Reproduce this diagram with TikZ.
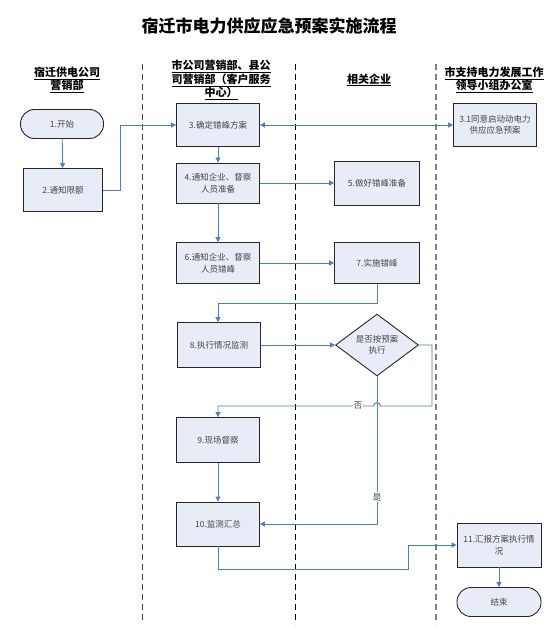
\documentclass[tikz,border=0pt]{standalone}
\usepackage{fontspec}
\setmainfont{Noto Sans CJK SC}
\usetikzlibrary{shapes.geometric,arrows.meta}
\definecolor{boxfill}{RGB}{231,236,246}
\definecolor{flow}{RGB}{74,126,190}
\definecolor{boxtext}{RGB}{70,70,70}
\tikzset{
  box/.style={draw=black!85, line width=0.9pt, fill=boxfill, minimum width=83pt, minimum height=43pt,
    align=center, inner sep=1pt, text=boxtext, font=\fontsize{8.5}{11.5}\selectfont},
  term/.style={box, rounded corners=14pt, minimum height=29pt},
  dec/.style={draw=black!85, line width=0.9pt, fill=boxfill, diamond, minimum width=83pt, minimum height=45pt,
    inner sep=0pt, align=center, text=boxtext, font=\fontsize{8.5}{11.5}\selectfont},
  flowline/.style={draw=flow, line width=0.9pt, -{Triangle[length=5pt,width=5pt]}},
  lane/.style={dash pattern=on 6pt off 4pt, line width=1pt},
  head/.style={align=center, font=\fontsize{11}{13.5}\selectfont\bfseries},
  lbl/.style={fill=white, inner sep=1pt, text=boxtext, font=\fontsize{8.5}{10}\selectfont}
}
\begin{document}
\begin{tikzpicture}[x=1pt,y=-1pt]
\useasboundingbox (0,0) rectangle (554,628);
% title
\node[font=\fontsize{17}{20}\selectfont\bfseries] (title) at (269,26) {宿迁市电力供应应急预案实施流程};
% lane separators
\coordinate (l1t) at (142,64); \coordinate (l1b) at (142,624);
\coordinate (l2t) at (295,64); \coordinate (l2b) at (295,624);
\coordinate (l3t) at (436,64); \coordinate (l3b) at (436,624);
\draw[lane, black!75] (l1t) -- (l1b);
\draw[lane, black] (l2t) -- (l2b);
\draw[lane, black!50, line width=1.5pt] (l3t) -- (l3b);
% headers
\node[head] (h1) at (67,80) {\underline{宿迁供电公司}\\\underline{营销部}};
\node[head] (h2) at (221,80) {\underline{市公司营销部、县公}\\\underline{司营销部（客户服务}\\\underline{中心）}};
\node[head] (h3) at (369,80) {\underline{相关企业}};
\node[head] (h4) at (494,80) {\underline{市支持电力发展工作}\\\underline{领导小组办公室}};
% nodes
\node[term, minimum width=83pt] (n1) at (62,124) {1.开始};
\node[box, minimum width=79pt] (n2) at (63,190) {2.通知限额};
\node[box] (n3) at (218,125) {3.确定错峰方案};
\node[box] (n31) at (495,125) {3.1同意启动动电力\\供应应急预案};
\node[box, minimum height=40pt] (n4) at (218,183) {4.通知企业、督察\\人员准备};
\node[box, minimum width=85pt, minimum height=44pt] (n5) at (377,183) {5.做好错峰准备};
\node[box, minimum height=41pt] (n6) at (218,263) {6.通知企业、督察\\人员错峰};
\node[box, minimum width=85pt, minimum height=41pt] (n7) at (377,263) {7.实施错峰};
\node[box, minimum height=45pt] (n8) at (219,345) {8.执行情况监测};
\node[dec] (d) at (377,345) {是否按预案\\执行};
\node[box, minimum height=45pt] (n9) at (218,440) {9.现场督察};
\node[box, minimum height=44pt] (n10) at (218,524) {10.监测汇总};
\node[box, minimum width=84pt, minimum height=44pt] (n11) at (499,545) {11.汇报方案执行情\\况};
\node[term, minimum width=84pt] (end) at (499,602) {结束};
% helper coordinates
\coordinate (a2) at (120,190); \coordinate (a3) at (120,125);
\coordinate (b7) at (377,303); \coordinate (b8) at (218,303);
\coordinate (c1) at (432,345); \coordinate (c2) at (432,406);
\coordinate (hr) at (380.5,406); \coordinate (hl) at (373.5,406);
\coordinate (c3) at (218,406);
\coordinate (e1) at (377,524);
\coordinate (f1) at (218,569); \coordinate (f2) at (408,569); \coordinate (f3) at (408,545);
% connectors
\draw[flowline] (n1) -- (n2);
\draw[flowline] (n2.east) -- (a2) -- (a3) -- (n3.west);
\draw[flowline, {Triangle[length=5pt,width=5pt]}-{Triangle[length=5pt,width=5pt]}] (n3.east) -- (n31.west);
\draw[flowline] (n3) -- (n4);
\draw[flowline] (n4) -- (n5);
\draw[flowline] (n4) -- (n6);
\draw[flowline] (n6) -- (n7);
\draw[flowline] (n7.south) -- (b7) -- (b8) -- (n8.north -| b8);
\draw[flowline] (n8) -- (d);
\draw[flowline] (d.south) -- (e1) -- (n10.east |- e1);
\draw[flowline] (d.east) -- (c1) -- (c2) -- (hr) .. controls +(0,-4.5) and +(0,-4.5) .. (hl) -- (c3) -- (n9.north -| c3);
\draw[flowline] (n9) -- (n10);
\draw[flowline] (n10.south -| f1) -- (f1) -- (f2) -- (f3) -- (n11.west |- f3);
\draw[flowline] (n11) -- (end);
% labels
\node[lbl] (no) at (358,406) {否};
\node[lbl] (yes) at (377,497) {是};
\end{tikzpicture}
\end{document}
